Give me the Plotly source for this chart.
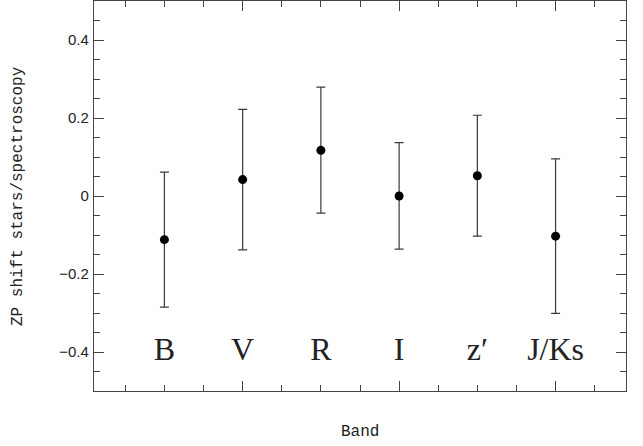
import plotly.graph_objects as go

bands = ["B", "V", "R", "I", "z\u2032", "J/Ks"]
band_pos = [1, 2, 3, 4, 5, 6]
zp_shift = [-0.112, 0.042, 0.117, 0.000, 0.052, -0.103]
err_plus = [0.173, 0.180, 0.162, 0.137, 0.155, 0.198]
err_minus = [0.173, 0.180, 0.161, 0.136, 0.155, 0.198]
label_y = [-0.4] * len(bands)

frame_col = "#444444"

fig = go.Figure()
fig.add_trace(go.Scatter(
    x=band_pos, y=zp_shift, mode="markers",
    marker=dict(size=9, color="black"),
    error_y=dict(type="data", symmetric=False, array=err_plus, arrayminus=err_minus,
                 color="#3a3a3a", thickness=1.2, width=4.5),
    showlegend=False, hoverinfo="skip",
))
fig.add_trace(go.Scatter(
    x=band_pos, y=label_y, mode="text", text=bands,
    textposition="middle center",
    textfont=dict(family="Liberation Serif", size=32, color="#222222"),
    showlegend=False, hoverinfo="skip",
))

axis_common = dict(
    showline=True, linecolor=frame_col, linewidth=1.2, mirror="allticks",
    ticks="inside", ticklen=10, tickwidth=1, tickcolor=frame_col,
    showgrid=False, zeroline=False,
)

fig.update_xaxes(
    range=[0.1, 6.9], tickmode="linear", tick0=0, dtick=2, showticklabels=False,
    minor=dict(tickmode="linear", tick0=0, dtick=0.5, ticklen=6, tickcolor=frame_col, ticks="inside"),
    **axis_common,
)
fig.update_yaxes(
    range=[-0.5, 0.5], tickmode="linear", tick0=0, dtick=0.2,
    tickfont=dict(family="Liberation Sans", size=15, color="#222222"),
    ticklabelstandoff=1,
    minor=dict(tickmode="linear", tick0=0, dtick=0.05, ticklen=6, tickcolor=frame_col, ticks="inside"),
    **axis_common,
)

fig.add_annotation(
    text="ZP shift stars/spectroscopy", xref="paper", yref="paper",
    x=0, y=0.5, xshift=-76, xanchor="center", yanchor="middle", textangle=-90,
    showarrow=False, font=dict(family="Liberation Mono", size=16, color="#222222"),
)
fig.add_annotation(
    text="Band", xref="paper", yref="paper",
    x=0.5, y=0, yshift=-41, xanchor="center", yanchor="middle",
    showarrow=False, font=dict(family="Liberation Mono", size=16, color="#222222"),
)

fig.update_layout(
    width=643, height=446,
    margin=dict(l=94, r=17, t=1, b=55),
    paper_bgcolor="white", plot_bgcolor="white",
)

fig.write_html("out.html", config={"displayModeBar": False},
               post_script="document.body.style.margin='0';")
